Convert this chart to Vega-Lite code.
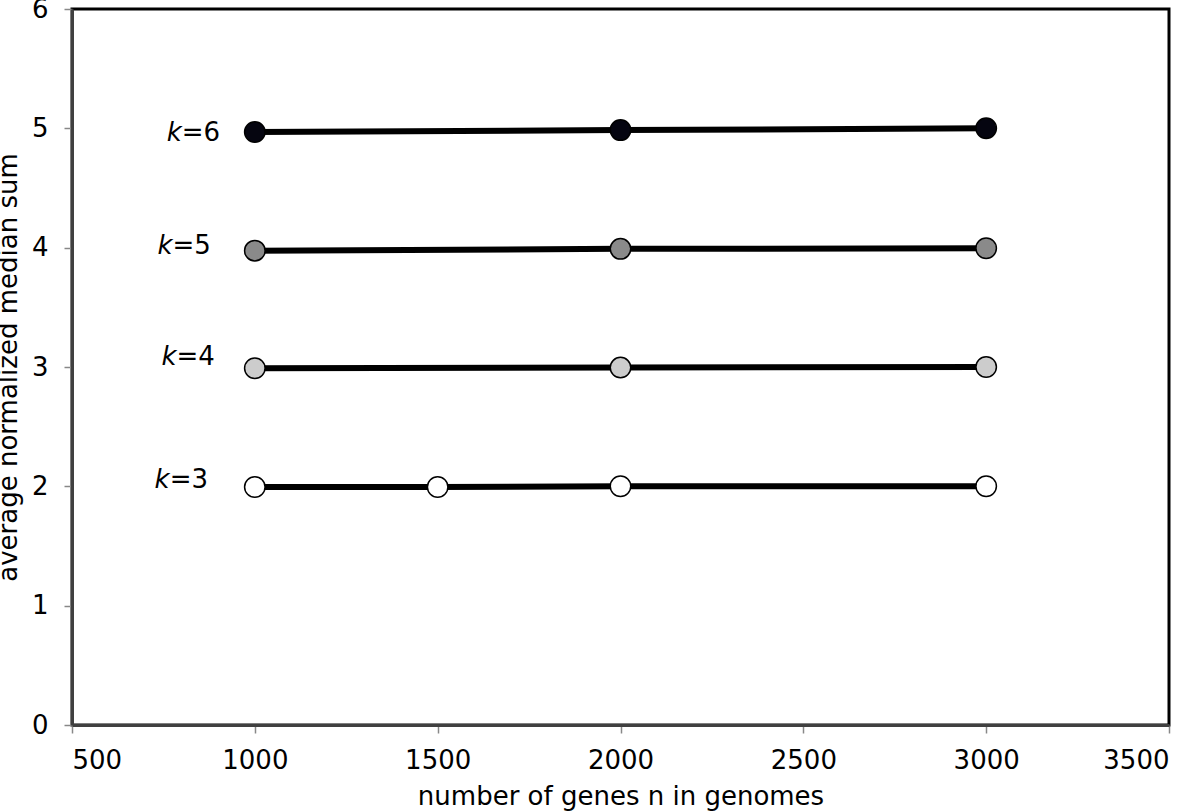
{
  "$schema": "https://vega.github.io/schema/vega-lite/v6.json",
  "width": 1097,
  "height": 716,
  "autosize": {"type": "none"},
  "padding": {"left": 72, "top": 9, "right": 31, "bottom": 87},
  "background": "white",
  "config": {
    "view": {"stroke": "black", "strokeWidth": 3},
    "font": "DejaVu Sans"
  },
  "datasets": {
    "pts": [
      {"k": "6", "n": 1000, "v": 4.97},
      {"k": "6", "n": 2000, "v": 4.985},
      {"k": "6", "n": 3000, "v": 5.0},
      {"k": "5", "n": 1000, "v": 3.975},
      {"k": "5", "n": 2000, "v": 3.99},
      {"k": "5", "n": 3000, "v": 3.995},
      {"k": "4", "n": 1000, "v": 2.99},
      {"k": "4", "n": 2000, "v": 2.995},
      {"k": "4", "n": 3000, "v": 3.0},
      {"k": "3", "n": 1000, "v": 1.995},
      {"k": "3", "n": 1500, "v": 1.995},
      {"k": "3", "n": 2000, "v": 2.0},
      {"k": "3", "n": 3000, "v": 2.0}
    ],
    "labels": [
      {"k": "6", "eq": "=6", "lx": 800, "ly": 4.96},
      {"k": "5", "eq": "=5", "lx": 775, "ly": 4.01},
      {"k": "4", "eq": "=4", "lx": 786, "ly": 3.08},
      {"k": "3", "eq": "=3", "lx": 767, "ly": 2.05}
    ]
  },
  "layer": [
    {
      "data": {"name": "pts"},
      "mark": {"type": "line", "color": "black", "strokeWidth": 6},
      "encoding": {
        "x": {
          "field": "n", "type": "quantitative",
          "scale": {"domain": [500, 3500], "nice": false, "zero": false},
          "axis": {
            "values": [500, 1000, 1500, 2000, 2500, 3000, 3500],
            "format": "d",
            "grid": false,
            "title": "number of genes n in genomes",
            "titleFont": "DejaVu Sans", "titleFontSize": 26, "titleFontWeight": "normal",
            "titleColor": "black", "titlePadding": 10,
            "labelFont": "DejaVu Sans", "labelFontSize": 26, "labelColor": "black",
            "labelPadding": 14,
            "tickColor": "#888888", "tickSize": 8, "tickWidth": 1.5,
            "domainColor": "#404040", "domainWidth": 3
          }
        },
        "y": {
          "field": "v", "type": "quantitative",
          "scale": {"domain": [0, 6], "nice": false},
          "axis": {
            "values": [0, 1, 2, 3, 4, 5, 6],
            "format": "d",
            "grid": false,
            "title": "average normalized median sum",
            "titleFont": "DejaVu Sans", "titleFontSize": 26, "titleFontWeight": "normal",
            "titleColor": "black", "titlePadding": 10,
            "labelFont": "DejaVu Sans", "labelFontSize": 26, "labelColor": "black",
            "labelPadding": 16,
            "tickColor": "#888888", "tickSize": 8, "tickWidth": 1.5,
            "domainColor": "#404040", "domainWidth": 3
          }
        },
        "detail": {"field": "k"}
      }
    },
    {
      "data": {"name": "pts"},
      "mark": {"type": "point", "filled": true, "shape": "circle", "size": 420, "stroke": "black", "strokeWidth": 1.5, "opacity": 1},
      "encoding": {
        "x": {"field": "n", "type": "quantitative"},
        "y": {"field": "v", "type": "quantitative"},
        "fill": {
          "field": "k", "type": "nominal",
          "scale": {"domain": ["3", "4", "5", "6"], "range": ["#ffffff", "#cccccc", "#8a8a8a", "#050510"]},
          "legend": null
        }
      }
    },
    {
      "data": {"name": "labels"},
      "mark": {"type": "text", "align": "right", "baseline": "middle", "font": "DejaVu Sans", "fontStyle": "italic", "fontSize": 26, "color": "black"},
      "encoding": {
        "x": {"field": "lx", "type": "quantitative"},
        "y": {"field": "ly", "type": "quantitative"},
        "text": {"value": "k"}
      }
    },
    {
      "data": {"name": "labels"},
      "mark": {"type": "text", "align": "left", "baseline": "middle", "font": "DejaVu Sans", "fontSize": 26, "color": "black"},
      "encoding": {
        "x": {"field": "lx", "type": "quantitative"},
        "y": {"field": "ly", "type": "quantitative"},
        "text": {"field": "eq"}
      }
    }
  ]
}
